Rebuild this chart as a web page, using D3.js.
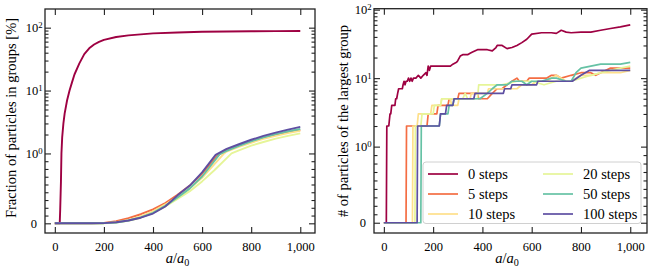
<!DOCTYPE html>
<html>
<head>
<meta charset="utf-8">
<script src="https://cdn.jsdelivr.net/npm/d3@7"></script>
<style>
  body { margin: 0; background: #fff; }
  svg text { font-family: "Liberation Serif", "DejaVu Serif", serif !important; fill: #000; }
</style>
</head>
<body>
<div id="chart"></div>
<script>
// series labels (legend order follows drawing order)
const labels = ["0 steps", "5 steps", "10 steps", "20 steps", "50 steps", "100 steps"];
const xTicks = [0, 200, 400, 600, 800, 1000];

// left panel: fraction of particles in groups [%]
const fracX0 = [0, 20, 22, 25, 27, 30, 35, 40, 50, 60, 70, 80, 100, 120, 140, 160, 180, 200, 250, 300, 400, 500, 600, 700, 800, 900, 1000];
const frac0  = [0, 0, 0.2, 0.6, 1, 1.8, 3, 4.3, 7, 10, 13.5, 18, 27, 38, 47, 54, 59.5, 64, 71, 75.5, 81, 84, 86, 87, 87.5, 88, 88.5];
const fracX5 = [0, 150, 200, 250, 300, 350, 400, 450, 500, 550, 600, 662, 700, 750, 800, 850, 900, 950, 1000];
const frac5  = [0, 0, 0.005, 0.03, 0.075, 0.13, 0.2, 0.29, 0.41, 0.54, 0.71, 0.97, 1.12, 1.32, 1.55, 1.78, 2.0, 2.18, 2.35];
const fracX10 = [0, 150, 200, 250, 300, 350, 400, 450, 500, 550, 600, 690, 700, 750, 800, 850, 900, 950, 1000];
const frac10  = [0, 0, 0.002, 0.015, 0.05, 0.1, 0.17, 0.27, 0.38, 0.5, 0.65, 1.0, 1.07, 1.27, 1.48, 1.7, 1.9, 2.1, 2.3];
const fracX20 = [0, 150, 200, 250, 300, 350, 400, 450, 500, 550, 600, 650, 720, 750, 800, 850, 900, 950, 1000];
const frac20  = [0, 0, 0.002, 0.01, 0.035, 0.08, 0.15, 0.24, 0.35, 0.46, 0.6, 0.76, 1.0, 1.12, 1.33, 1.52, 1.72, 1.9, 2.08];
const fracX50 = [0, 150, 200, 250, 300, 350, 400, 450, 500, 550, 600, 672, 700, 750, 800, 850, 900, 950, 1000];
const frac50  = [0, 0, 0.002, 0.012, 0.04, 0.085, 0.15, 0.25, 0.37, 0.5, 0.67, 0.99, 1.1, 1.32, 1.56, 1.8, 2.03, 2.25, 2.45];
const fracX100 = [0, 150, 200, 250, 300, 350, 400, 450, 500, 550, 600, 655, 700, 750, 800, 850, 900, 950, 1000];
const frac100  = [0, 0, 0.003, 0.015, 0.04, 0.08, 0.14, 0.24, 0.4, 0.54, 0.73, 0.98, 1.18, 1.4, 1.65, 1.9, 2.14, 2.39, 2.64];

// right panel: # of particles of the largest group
const bigX0 = [0, 10, 12, 20, 25, 28, 32, 45, 48, 52, 56, 60, 75, 78, 82, 86, 90, 95, 100, 105, 110, 115, 120, 125, 130, 140, 150, 160, 170, 175, 180, 185, 190, 200, 260, 270, 280, 295, 300, 310, 320, 340, 350, 360, 380, 420, 440, 455, 460, 480, 500, 520, 540, 560, 580, 600, 640, 680, 700, 720, 740, 760, 800, 840, 880, 920, 960, 1000];
const big0  = [0, 0, 2, 2, 3, 3, 4, 4, 5, 5, 6, 7, 7, 8, 9, 8, 9, 9, 10, 9, 10, 9, 10, 10, 10, 11, 10, 11, 12, 11, 15, 13, 15, 15, 15, 15, 16, 17, 18, 21, 22, 22, 23, 24, 26, 26, 25, 28, 30, 30, 27, 28, 30, 33, 37, 44, 46, 46, 45, 50, 47, 46, 47, 47, 50, 53, 56, 60];
const bigX5 = [0, 90, 92, 175, 180, 215, 220, 260, 265, 300, 305, 380, 385, 420, 440, 460, 480, 500, 520, 540, 550, 560, 580, 590, 600, 640, 660, 680, 700, 720, 760, 800, 840, 860, 880, 920, 1000];
const big5  = [0, 0, 2, 2, 3, 3, 4, 4, 5, 5, 6, 6, 5, 5, 6, 7, 7, 8, 9, 10, 9, 9, 9, 10, 10, 10, 10, 11, 11, 10, 11, 12, 12, 11, 12, 14, 14];
const bigX10 = [0, 116, 118, 135, 140, 190, 195, 230, 235, 270, 275, 300, 305, 350, 355, 420, 425, 480, 500, 540, 560, 600, 620, 660, 700, 720, 740, 760, 800, 840, 880, 920, 960, 1000];
const big10  = [0, 0, 2, 2, 3, 3, 4, 4, 5, 5, 4, 4, 5, 5, 6, 6, 7, 7, 7, 7, 8, 8, 9, 9, 11, 10, 9, 9, 11, 11, 12, 12, 12, 13];
const bigX20 = [0, 126, 128, 150, 155, 200, 205, 230, 235, 320, 330, 340, 350, 380, 385, 470, 480, 540, 560, 600, 650, 700, 760, 800, 840, 880, 920, 960, 1000];
const big20  = [0, 0, 2, 2, 3, 3, 4, 4, 5, 5, 6, 5, 5, 5, 8, 8, 8, 9, 9, 9, 8, 9, 9, 10, 11, 12, 13, 14, 15];
const bigX50 = [0, 150, 152, 225, 230, 260, 265, 280, 285, 380, 390, 420, 440, 460, 480, 500, 520, 540, 560, 580, 600, 640, 680, 700, 740, 760, 780, 800, 840, 880, 920, 960, 1000];
const big50  = [0, 0, 2, 2, 3, 3, 4, 4, 5, 5, 5, 6, 7, 8, 8, 8, 9, 9, 9, 8, 9, 9, 10, 10, 9, 9, 12, 14, 15, 16, 16, 16, 17];
const bigX100 = [0, 135, 137, 225, 230, 250, 255, 280, 285, 365, 370, 485, 490, 515, 520, 620, 625, 765, 800, 835, 1000];
const big100  = [0, 0, 2, 2, 3, 3, 4, 4, 5, 5, 6, 6, 7, 7, 8, 8, 9, 9, 11, 13, 13];

const colors = ["#9e0142", "#f46d43", "#fee08b", "#e6f598", "#66c2a5", "#5e4fa2"];

const fracSeries = [[fracX0, frac0], [fracX5, frac5], [fracX10, frac10], [fracX20, frac20], [fracX50, frac50], [fracX100, frac100]];
const bigSeries = [[bigX0, big0], [bigX5, big5], [bigX10, big10], [bigX20, big20], [bigX50, big50], [bigX100, big100]];

const FONT = "'Liberation Serif', 'DejaVu Serif', serif";
const TICK_FS = 12.5, LABEL_FS = 14.5;
const width = 654, height = 272;
const svg = d3.select("#chart").append("svg")
  .attr("width", width)
  .attr("height", height)
  .attr("font-family", FONT);

// matplotlib-like symlog (linthresh 1, linscale 1, base 10)
const LS = 1 / (1 - 1 / 10);
function symT(v) { return v <= 1 ? v * LS : LS + Math.log10(v); }

const majorT = [0, LS, LS + 1, LS + 2];
const minorT = [];
for (let k = 1; k <= 8; k++) minorT.push(k / 9 * LS);
for (let e = 0; e <= 1; e++) for (let m = 2; m <= 9; m++) minorT.push(LS + Math.log10(m * Math.pow(10, e)));

function panel(p) {
  const x = d3.scaleLinear().domain(p.xDomain).range([p.left, p.right]);
  const yT = d3.scaleLinear().domain(p.yDomain).range([p.bottom, p.top]);
  const g = svg.append("g");

  const clipId = "clip" + p.id;
  svg.append("clipPath").attr("id", clipId).append("rect")
    .attr("x", p.left).attr("y", p.top)
    .attr("width", p.right - p.left).attr("height", p.bottom - p.top);

  const line = d3.line()
    .x(d => x(d[0]))
    .y(d => yT(symT(d[1])));

  p.series.forEach((s, i) => {
    const pts = s[0].map((xv, j) => [xv, s[1][j]]);
    g.append("path")
      .datum(pts)
      .attr("clip-path", `url(#${clipId})`)
      .attr("fill", "none")
      .attr("stroke", colors[i])
      .attr("stroke-width", p.lw)
      .attr("stroke-linejoin", "round")
      .attr("d", line);
  });

  const clean = a => a.call(s => s.select(".domain").remove()).attr("font-family", FONT);

  // y axis left
  const yl = g.append("g").attr("transform", `translate(${p.left},0)`)
    .call(d3.axisLeft(yT).tickValues(majorT).tickSize(-6).tickPadding(2.5).tickFormat(d => d))
    .call(clean);
  yl.selectAll(".tick text").each(function (d, i) {
    const t = d3.select(this).text(null).attr("font-size", TICK_FS);
    if (i === 0) { t.attr("dx", -5.5).text("0"); }
    else {
      t.append("tspan").text("10");
      t.append("tspan").attr("dy", "-0.45em").attr("font-size", "0.7em").text(i - 1);
    }
  });
  g.append("g").attr("transform", `translate(${p.left},0)`)
    .call(d3.axisLeft(yT).tickValues(minorT).tickSize(-3.5).tickFormat(""))
    .call(clean);
  // y axis right
  g.append("g").attr("transform", `translate(${p.right},0)`)
    .call(d3.axisRight(yT).tickValues(majorT).tickSize(-6).tickFormat(""))
    .call(clean);
  g.append("g").attr("transform", `translate(${p.right},0)`)
    .call(d3.axisRight(yT).tickValues(minorT).tickSize(-3.5).tickFormat(""))
    .call(clean);
  // x axes
  g.append("g").attr("transform", `translate(0,${p.bottom})`)
    .call(d3.axisBottom(x).tickValues(xTicks).tickSize(-6).tickPadding(9))
    .call(clean)
    .selectAll("text").attr("font-size", TICK_FS);
  g.append("g").attr("transform", `translate(0,${p.top})`)
    .call(d3.axisTop(x).tickValues(xTicks).tickSize(-6).tickFormat(""))
    .call(clean);

  g.selectAll(".tick line").attr("stroke", "#222").attr("stroke-width", 1.1);

  // frame
  g.append("rect")
    .attr("x", p.left).attr("y", p.top)
    .attr("width", p.right - p.left).attr("height", p.bottom - p.top)
    .attr("fill", "none").attr("stroke", "#222").attr("stroke-width", 1.3);

  // labels
  const xl = g.append("text")
    .attr("x", x(500)).attr("y", 263)
    .attr("text-anchor", "middle").attr("font-size", LABEL_FS);
  xl.append("tspan").attr("font-style", "italic").text("a");
  xl.append("tspan").text("/");
  xl.append("tspan").attr("font-style", "italic").text("a");
  xl.append("tspan").attr("dy", "0.3em").attr("font-size", "0.7em").text("0");

  g.append("text")
    .attr("transform", `translate(${p.ylabelX},${p.ylabelY}) rotate(-90)`)
    .attr("text-anchor", "middle").attr("font-size", LABEL_FS)
    .text(p.ylabel);

  return { x, yT, g };
}

panel({
  id: "L", left: 45, right: 315, top: 9, bottom: 233,
  xDomain: [-40, 1060], yDomain: [-0.154, 3.408],
  series: fracSeries, lw: 1.9,
  ylabel: "Fraction of particles in groups [%]", ylabelX: 16, ylabelY: 118
});

panel({
  id: "R", left: 374, right: 647, top: 8.7, bottom: 233,
  xDomain: [-40, 1068], yDomain: [-0.15, 3.125],
  series: bigSeries, lw: 1.7,
  ylabel: "# of particles of the largest group", ylabelX: 348, ylabelY: 121
});

// legend
const leg = svg.append("g");
leg.append("rect")
  .attr("x", 423).attr("y", 162).attr("width", 218).attr("height", 61.5)
  .attr("rx", 3).attr("fill", "#fff").attr("fill-opacity", 0.8)
  .attr("stroke", "#d0d0d0").attr("stroke-width", 1);
labels.forEach((lab, i) => {
  const col = Math.floor(i / 3), row = i % 3;
  const lx = col === 0 ? 428 : 543;
  const ly = 174 + row * 20;
  leg.append("line")
    .attr("x1", lx).attr("x2", lx + 30).attr("y1", ly).attr("y2", ly)
    .attr("stroke", colors[i]).attr("stroke-width", 1.7);
  leg.append("text")
    .attr("x", lx + 40).attr("y", ly).attr("dy", "0.35em")
    .attr("font-size", LABEL_FS).text(lab);
});
</script>
</body>
</html>
